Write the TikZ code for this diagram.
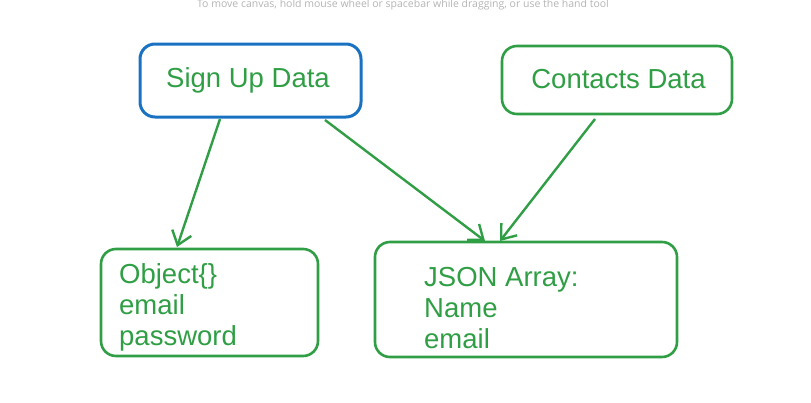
\documentclass[tikz,border=0pt]{standalone}
\usepackage{fontspec}
\setmainfont{Liberation Sans}
\newfontfamily\hintfont{Open Sans}
\usetikzlibrary{arrows.meta}
\definecolor{exgreen}{HTML}{2F9E44}
\definecolor{exblue}{HTML}{1971C2}
\definecolor{hintgray}{HTML}{B4B4B4}
\tikzset{
  box/.style={draw=exgreen, line width=2.6pt, rounded corners=15pt, inner sep=0pt},
  bluebox/.style={box, draw=exblue, line width=3pt},
  lbl/.style={text=exgreen, font=\fontsize{27.5}{31}\selectfont, inner sep=0pt},
  conn/.style={draw=exgreen, line width=2.4pt, -{Straight Barb[length=13pt,width=20pt,line width=2.4pt]}}
}
\begin{document}
\begin{tikzpicture}[x=1pt,y=-1pt]
\useasboundingbox (0,0) rectangle (811,402);
\node[anchor=center, text=hintgray, font=\hintfont\fontsize{10.5}{12}\selectfont, inner sep=0pt] (hint) at (403,5) {To move canvas, hold mouse wheel or spacebar while dragging, or use the hand tool};
% boxes
\node[bluebox, minimum width=221pt, minimum height=73pt] (signup) at (250.5,80.5) {};
\node[box, minimum width=230pt, minimum height=68pt] (contacts) at (617,80) {};
\node[box, minimum width=217pt, minimum height=107pt] (object) at (209.5,302.5) {};
\node[box, minimum width=302pt, minimum height=115pt] (json) at (526,299.5) {};
% texts
\node[lbl, anchor=base] (t1) at (248,87) {Sign Up Data};
\node[lbl, anchor=base] (t2) at (618.5,88) {Contacts Data};
\node[lbl, anchor=base west] (o1) at (119,283) {Object\{\}};
\node[lbl, anchor=base west] (o2) at (119,314) {email};
\node[lbl, anchor=base west] (o3) at (119,345) {password};
\node[lbl, anchor=base west] (j1) at (424,286) {JSON Array:};
\node[lbl, anchor=base west] (j2) at (424,317) {Name};
\node[lbl, anchor=base west] (j3) at (424,348) {email};
% connectors
\coordinate (a1s) at (220,119);
\coordinate (a1e) at (177,247);
\coordinate (a2s) at (325,120);
\coordinate (a2e) at (485,241);
\coordinate (a3s) at (595,119);
\coordinate (a3e) at (500,241);
\draw[conn] (a1s) -- (a1e);
\draw[conn] (a2s) -- (a2e);
\draw[conn] (a3s) -- (a3e);
\end{tikzpicture}
\end{document}
